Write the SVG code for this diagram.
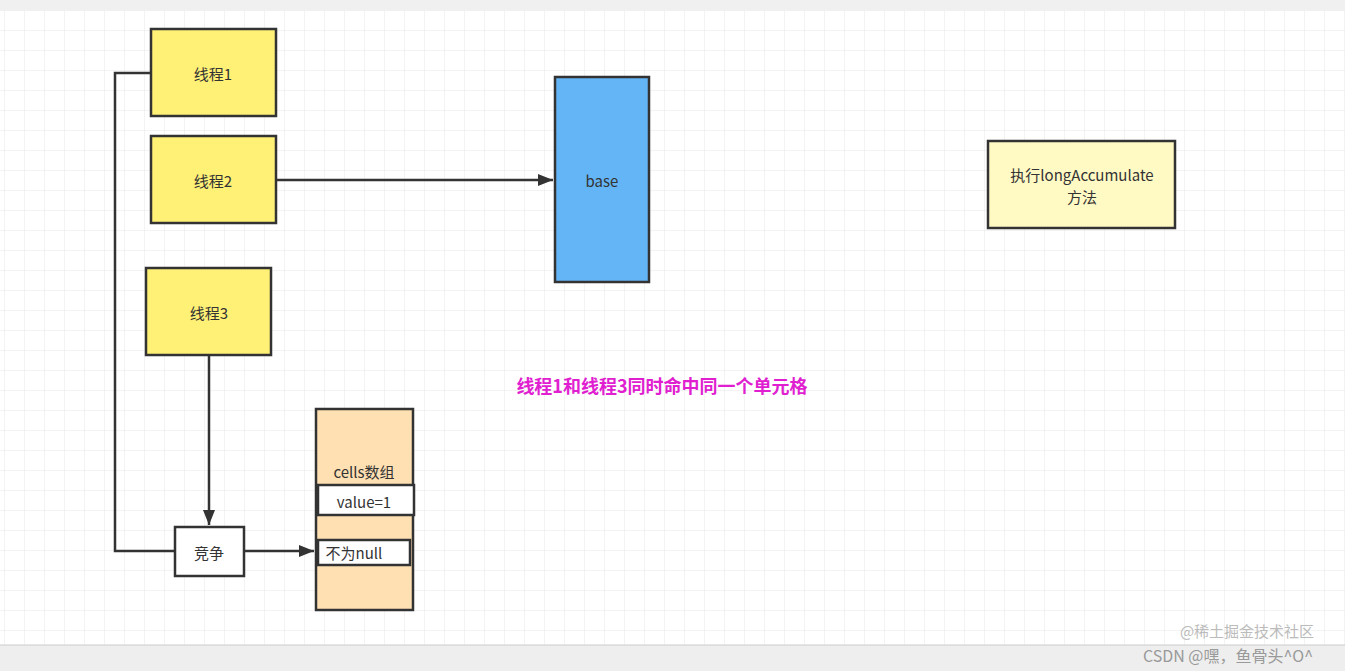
<svg xmlns="http://www.w3.org/2000/svg" width="1345" height="671" viewBox="0 0 1345 671">
<defs>
<pattern id="g" width="20" height="20" patternUnits="userSpaceOnUse" x="5" y="11"><path d="M20 0V20H0" fill="none" stroke="#e6e6e6" stroke-width="1"/></pattern>
<marker id="a" viewBox="0 0 10 10" refX="10" refY="5" markerWidth="6" markerHeight="6" orient="auto"><path d="M0 1L10 5L0 9z" fill="#333"/></marker>
<style>
.n{stroke:#333;stroke-width:2.5}
.t{font-family:"Noto Sans CJK SC","Noto Sans",sans-serif;font-size:15px;fill:#333;text-anchor:middle;dominant-baseline:central}
.c{fill:none;stroke:#333;stroke-width:2.5}
</style>
</defs>
<rect width="1345" height="671" fill="#fff"/>
<rect y="11" width="1345" height="634" fill="url(#g)"/>
<rect width="1345" height="11" fill="#f0f0f0"/>
<rect y="645" width="1345" height="26" fill="#eeeeee"/>
<line x1="0" y1="645" x2="1345" y2="645" stroke="#ccc"/>
<g id="t1"><rect class="n" x="151" y="29" width="125" height="87" fill="#fff176"/><text class="t" x="213" y="73">线程1</text></g>
<g id="t2"><rect class="n" x="151" y="136" width="125" height="87" fill="#fff176"/><text class="t" x="213" y="180">线程2</text></g>
<g id="t3"><rect class="n" x="146" y="268" width="125" height="87" fill="#fff176"/><text class="t" x="209" y="312">线程3</text></g>
<g id="base"><rect class="n" x="555" y="77" width="94" height="205" fill="#64b5f6"/><text class="t" x="602" y="180">base</text></g>
<g id="exec"><rect class="n" x="988" y="141" width="187" height="87" fill="#fff9c4"/><text class="t" x="1082" y="174">执行longAccumulate</text><text class="t" x="1082" y="196">方法</text></g>
<g id="comp"><rect class="n" x="175" y="527" width="69" height="49" fill="#fff"/><text class="t" x="209" y="552">竞争</text></g>
<g id="cells"><rect class="n" x="316" y="409" width="97" height="201" fill="#ffe0b2"/><text class="t" x="364" y="471">cells数组</text>
<rect class="n" x="318" y="485" width="96" height="30" fill="#fff"/><text class="t" x="364" y="501">value=1</text>
<rect class="n" x="318" y="540" width="92" height="25" fill="#fff"/><text class="t" x="354" y="552">不为null</text></g>
<g id="connectors">
<polyline class="c" points="151,73 115,73 115,551 175,551"/>
<line class="c" x1="276" y1="180" x2="553" y2="180" marker-end="url(#a)"/>
<line class="c" x1="209" y1="355" x2="209" y2="525" marker-end="url(#a)"/>
<line class="c" x1="244" y1="551" x2="314" y2="551" marker-end="url(#a)"/>
</g>
<text x="662" y="385" style="font-family:'Noto Sans CJK SC',sans-serif;font-size:18px;font-weight:bold;fill:#e020d0;text-anchor:middle;dominant-baseline:central">线程1和线程3同时命中同一个单元格</text>
<text x="1247" y="637" style="font-family:'Noto Sans CJK SC',sans-serif;font-size:15px;fill:#bbb;text-anchor:middle">@稀土掘金技术社区</text>
<text x="1228" y="662" style="font-family:'Noto Sans CJK SC',sans-serif;font-size:16px;fill:#999;text-anchor:middle">CSDN @嘿，鱼骨头^O^</text>
</svg>
